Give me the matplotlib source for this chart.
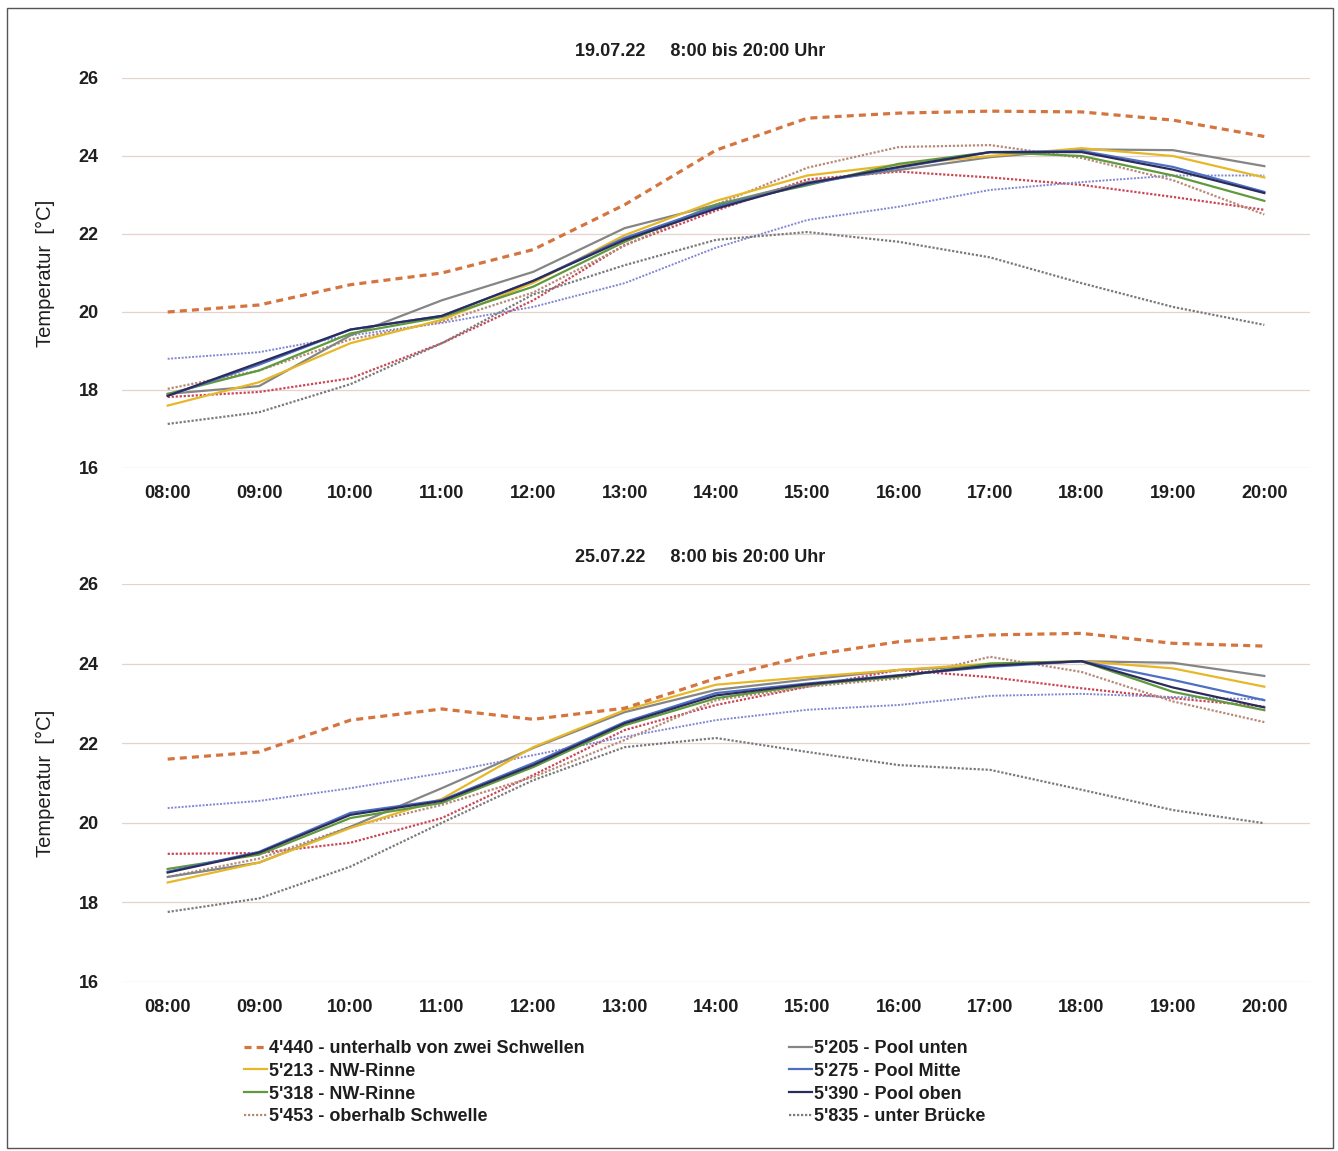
import matplotlib
matplotlib.use("Agg")
import matplotlib.pyplot as plt
from matplotlib.patches import Rectangle

plt.rcParams["font.family"] = ["Liberation Sans", "DejaVu Sans"]
plt.rcParams["font.weight"] = "bold"

# x categories
hours = ["08:00", "09:00", "10:00", "11:00", "12:00", "13:00", "14:00",
         "15:00", "16:00", "17:00", "18:00", "19:00", "20:00"]
yticks = [16, 18, 20, 22, 24, 26]

# ---- 19.07.22 ----
t_4440 = [20.0, 20.18, 20.7, 21.0, 21.6, 22.75, 24.15, 24.97, 25.1, 25.15, 25.13, 24.92, 24.5]
t_5213 = [17.6, 18.2, 19.2, 19.8, 20.75, 21.97, 22.85, 23.5, 23.78, 24.0, 24.2, 24.0, 23.45]
t_5318 = [17.9, 18.5, 19.45, 19.87, 20.65, 21.8, 22.75, 23.25, 23.8, 24.1, 24.0, 23.5, 22.85]
t_5453 = [18.03, 18.5, 19.3, 19.75, 20.5, 21.7, 22.75, 23.7, 24.23, 24.28, 23.95, 23.38, 22.5]
t_5205 = [17.9, 18.1, 19.4, 20.3, 21.03, 22.15, 22.75, 23.33, 23.64, 23.97, 24.17, 24.15, 23.74]
t_5275 = [17.85, 18.65, 19.55, 19.9, 20.8, 21.9, 22.7, 23.28, 23.7, 24.1, 24.13, 23.72, 23.08]
t_5390 = [17.85, 18.7, 19.55, 19.9, 20.8, 21.85, 22.65, 23.3, 23.72, 24.1, 24.1, 23.65, 23.05]
t_5835 = [17.13, 17.43, 18.15, 19.2, 20.45, 21.2, 21.85, 22.05, 21.8, 21.4, 20.74, 20.13, 19.67]
t_red = [17.82, 17.95, 18.3, 19.2, 20.3, 21.72, 22.6, 23.4, 23.6, 23.45, 23.26, 22.95, 22.62]
t_bluedot = [18.8, 18.97, 19.4, 19.72, 20.13, 20.74, 21.65, 22.36, 22.7, 23.13, 23.33, 23.5, 23.5]

# ---- 25.07.22 ----
b_4440 = [21.6, 21.78, 22.58, 22.86, 22.6, 22.88, 23.63, 24.2, 24.55, 24.72, 24.76, 24.51, 24.44]
b_5213 = [18.5, 19.0, 19.87, 20.6, 21.9, 22.83, 23.47, 23.66, 23.84, 24.0, 24.06, 23.88, 23.42]
b_5318 = [18.84, 19.2, 20.12, 20.5, 21.4, 22.45, 23.13, 23.46, 23.67, 24.0, 24.06, 23.29, 22.83]
b_5453 = [18.64, 19.1, 19.9, 20.45, 21.15, 22.08, 23.08, 23.42, 23.63, 24.17, 23.79, 23.05, 22.53]
b_5205 = [18.64, 19.0, 19.9, 20.87, 21.88, 22.78, 23.34, 23.6, 23.84, 23.95, 24.06, 24.02, 23.69]
b_5275 = [18.77, 19.27, 20.25, 20.57, 21.5, 22.53, 23.26, 23.5, 23.71, 23.92, 24.06, 23.59, 23.08]
b_5390 = [18.75, 19.25, 20.2, 20.55, 21.45, 22.5, 23.2, 23.48, 23.7, 23.95, 24.06, 23.4, 22.9]
b_5835 = [17.76, 18.1, 18.9, 20.0, 21.07, 21.9, 22.13, 21.78, 21.45, 21.33, 20.83, 20.32, 19.99]
b_red = [19.22, 19.24, 19.5, 20.12, 21.2, 22.33, 22.96, 23.42, 23.84, 23.66, 23.38, 23.13, 22.92]
b_bluedot = [20.37, 20.55, 20.87, 21.25, 21.7, 22.16, 22.58, 22.84, 22.96, 23.19, 23.24, 23.16, 23.1]

labels = ["4'440 - unterhalb von zwei Schwellen", "5'213 - NW-Rinne", "5'318 - NW-Rinne",
          "5'453 - oberhalb Schwelle", "5'205 - Pool unten", "5'275 - Pool Mitte",
          "5'390 - Pool oben", "5'835 - unter Brücke"]

# style per series: (color, linestyle, linewidth)
styles = [
    ("#d4743f", (0, (2.2, 1.6)), 2.3),
    ("#e6b829", "-", 1.6),
    ("#5f9a3c", "-", 1.6),
    ("#b58a78", (0, (1, 0.8)), 1.6),
    ("#858585", "-", 1.6),
    ("#4d6fc4", "-", 1.6),
    ("#2b2c5c", "-", 1.6),
    ("#7a7a7a", (0, (1, 0.8)), 1.6),
]
extra_styles = [
    ("#c94655", (0, (1, 0.8)), 1.6),
    ("#8086d2", (0, (1, 0.8)), 1.4),
]

panels = [
    ("19.07.22     8:00 bis 20:00 Uhr",
     [t_4440, t_5213, t_5318, t_5453, t_5205, t_5275, t_5390, t_5835], [t_red, t_bluedot]),
    ("25.07.22     8:00 bis 20:00 Uhr",
     [b_4440, b_5213, b_5318, b_5453, b_5205, b_5275, b_5390, b_5835], [b_red, b_bluedot]),
]

W, H = 1338, 1151
fig = plt.figure(figsize=(W / 100, H / 100), dpi=100)

# axes boxes in pixels: left, top(26), right, bottom(16)
boxes = [(122, 78, 1310, 468), (122, 584, 1310, 982)]
title_y = [52, 557]
txt = "#1e1e1e"

x = list(range(len(hours)))
axes = []
for i, (title, series, extras) in enumerate(panels):
    l, t, r, b = boxes[i]
    ax = fig.add_axes([l / W, 1 - b / H, (r - l) / W, (b - t) / H])
    axes.append(ax)
    # extra probes (not in legend) drawn underneath
    for ys, (c, ls, lw) in zip(extras, extra_styles):
        ax.plot(x, ys, color=c, linestyle=ls, linewidth=lw, zorder=2)
    order = [7, 3, 4, 1, 2, 5, 6, 0]
    for k in order:
        c, ls, lw = styles[k]
        ax.plot(x, series[k], color=c, linestyle=ls, linewidth=lw, zorder=3,
                label=labels[k])
    ax.set_xlim(-0.5, len(hours) - 0.5)
    ax.set_ylim(16, 26)
    ax.set_yticks(yticks)
    ax.set_xticks(x)
    ax.set_xticklabels(hours)
    for yv in yticks:
        ax.axhline(yv, color="#e6d3cd", linewidth=0.9, zorder=1)
    for s in ax.spines.values():
        s.set_visible(False)
    ax.tick_params(axis="both", length=0, labelsize=13, colors=txt)
    ax.tick_params(axis="x", pad=12)
    ax.tick_params(axis="y", pad=17)
    ax.set_ylabel("Temperatur  [°C]", fontsize=14.5, fontweight="normal", color=txt, labelpad=17)
    fig.text(700 / W, 1 - title_y[i] / H, title, ha="center", va="center",
             fontsize=13, color=txt)

# legend below the second chart, two columns placed separately
ax = axes[1]
hmap = {h.get_label(): h for h in ax.get_lines()}
legend_x = [244, 789]
for j in range(2):
    labs = labels[j * 4:(j + 1) * 4]
    hs = [hmap[lab] for lab in labs]
    leg = fig.legend(hs, labs, loc="upper left", bbox_to_anchor=(legend_x[j] / W, 1 - 1040 / H),
                     ncol=1, frameon=False, fontsize=13, handlelength=1.3, handletextpad=0.1,
                     labelspacing=0.32, borderpad=0, borderaxespad=0, labelcolor=txt)

# page frame
fig.patches.append(Rectangle((7 / W, 3 / H), 1326 / W, 1140 / H, transform=fig.transFigure,
                             fill=False, edgecolor="#555555", linewidth=1.0))

fig.savefig("out.png", dpi=100)
plt.close(fig)
